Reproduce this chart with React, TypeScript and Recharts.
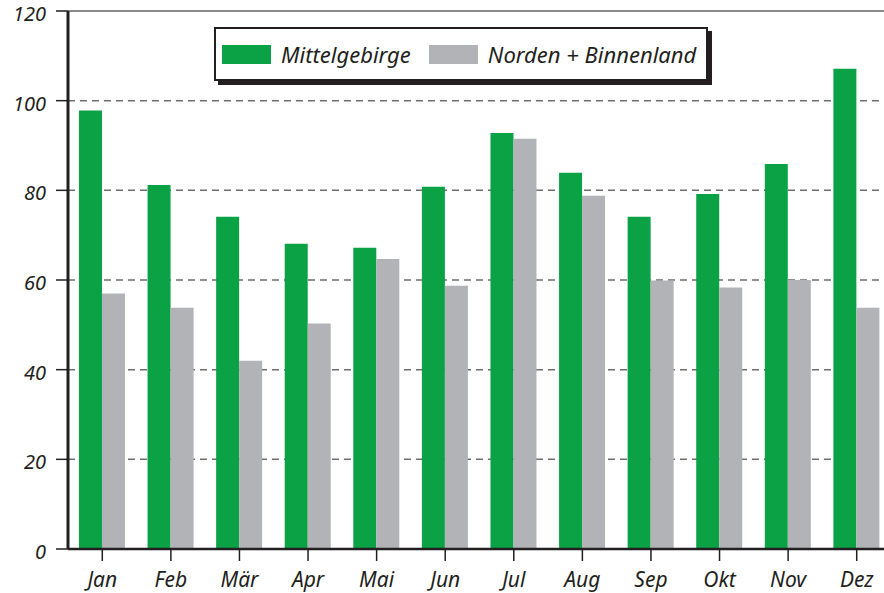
import { BarChart, Bar, XAxis, YAxis, CartesianGrid, ReferenceLine } from 'recharts';

const months = ['Jan', 'Feb', 'Mär', 'Apr', 'Mai', 'Jun', 'Jul', 'Aug', 'Sep', 'Okt', 'Nov', 'Dez'];
const mittelgebirge = [97.8, 81.2, 74.1, 68.1, 67.2, 80.8, 92.8, 83.9, 74.1, 79.2, 85.9, 107.1];
const nordenBinnenland = [57.0, 53.8, 42.0, 50.3, 64.7, 58.7, 91.5, 78.8, 59.9, 58.3, 60.0, 53.8];
const yTicks = [0, 20, 40, 60, 80, 100, 120];

const GREEN = '#0aa245';
const GRAY = '#b1b3b6';
const DARK = '#231f20';
const FONT = '"Noto Sans", "Open Sans", sans-serif';

const data = months.map((m, i) => ({
  month: m,
  mittel: mittelgebirge[i],
  norden: nordenBinnenland[i],
}));

// boxed legend with a hard drop shadow, placed over the plot
function BoxLegend() {
  const item = (color: string, label: string, gapAfter: number) => (
    <div style={{ display: 'flex', alignItems: 'center', marginRight: gapAfter }}>
      <div style={{ width: 49, height: 19, background: color, marginRight: 10 }} />
      <span style={{ fontStyle: 'italic', fontSize: 22, color: DARK, fontFamily: FONT }}>{label}</span>
    </div>
  );
  return (
    <div
      style={{
        position: 'absolute',
        left: 214,
        top: 27,
        boxSizing: 'border-box',
        width: 494,
        height: 54,
        border: `2px solid ${DARK}`,
        boxShadow: `4px 4px 0 ${DARK}`,
        background: '#fff',
        display: 'flex',
        alignItems: 'center',
        paddingLeft: 6,
      }}
    >
      {item(GREEN, 'Mittelgebirge', 18)}
      {item(GRAY, 'Norden + Binnenland', 0)}
    </div>
  );
}

function YTick(props: any) {
  const { x, y, payload } = props;
  return (
    <text x={x} y={y + 3} dy="0.355em" textAnchor="end" fill={DARK} fontSize={20} fontStyle="italic" fontFamily={FONT}>
      {payload.value}
    </text>
  );
}

export default function App() {
  return (
    <div
      style={{
        position: 'fixed',
        left: 0,
        top: 0,
        width: 884,
        height: 593,
        overflow: 'hidden',
        background: '#fff',
      }}
    >
      <BarChart
        width={900}
        height={593}
        data={data}
        margin={{ top: 11, right: 9, left: 0, bottom: 0 }}
        barCategoryGap="16%"
        barGap={0}
      >
        <CartesianGrid
          vertical={false}
          stroke="#6d6e71"
          strokeWidth={1.5}
          strokeDasharray="7 5"
        />
        <ReferenceLine y={120} stroke="#8a8c8e" strokeWidth={2} />
        <XAxis
          dataKey="month"
          height={44}
          axisLine={{ stroke: DARK, strokeWidth: 2.5 }}
          tickLine={{ stroke: DARK, strokeWidth: 1.5 }}
          tickSize={12}
          tickMargin={11}
          tick={{ fill: DARK, fontSize: 21, fontStyle: 'italic', fontFamily: FONT }}
        />
        <YAxis
          width={68}
          domain={[0, 120]}
          ticks={yTicks}
          interval={0}
          axisLine={{ stroke: DARK, strokeWidth: 3 }}
          tickLine={{ stroke: DARK, strokeWidth: 1.5 }}
          tickSize={12}
          tickMargin={10}
          tick={<YTick />}
        />
        <Bar dataKey="mittel" fill={GREEN} isAnimationActive={false} />
        <Bar dataKey="norden" fill={GRAY} isAnimationActive={false} />
      </BarChart>
      <BoxLegend />
    </div>
  );
}
